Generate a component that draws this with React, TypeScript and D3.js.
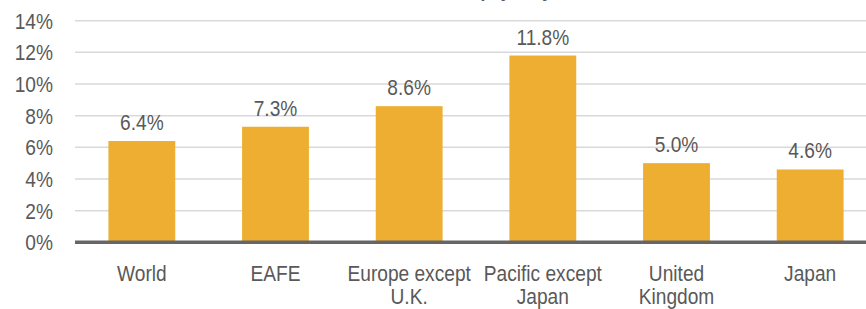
import React, { useEffect, useRef } from 'react';
import * as d3 from 'd3';

const categories = ['World', 'EAFE', 'Europe except\nU.K.', 'Pacific except\nJapan', 'United\nKingdom', 'Japan'];
const values = [6.4, 7.3, 8.6, 11.8, 5.0, 4.6];
const yTicks = [0, 2, 4, 6, 8, 10, 12, 14];
const title = 'Dividend payout yield';

const App = () => {
  const svgRef = useRef<SVGSVGElement>(null);

  useEffect(() => {
    document.body.style.margin = '0';
    const width = 866;
    const height = 309;
    const font = '"Liberation Sans", Arial, sans-serif';
    const textColor = '#595959';
    const narrow = 0.87; // squeeze to look like Arial Narrow
    const fontSize = '22px';

    const svg = d3.select(svgRef.current);
    svg.selectAll('*').remove();
    svg.attr('width', width).attr('height', height);

    const x = d3
      .scaleBand()
      .domain(categories)
      .range([75, 877])
      .paddingInner(0.5)
      .paddingOuter(0.25);

    const y = d3.scaleLinear().domain([0, 14]).range([242.3, 20.7]);

    const place = (px: number, py: number) => `translate(${px},${py}) scale(${narrow},1)`;

    // title, mostly cut off above the picture
    svg
      .append('text')
      .attr('transform', place(492, -3))
      .attr('text-anchor', 'middle')
      .style('font-family', font)
      .style('font-weight', 'bold')
      .style('font-size', '20px')
      .attr('fill', textColor)
      .text(title);

    // gridlines
    svg
      .append('g')
      .selectAll('line')
      .data(yTicks.filter(d => d > 0))
      .enter()
      .append('line')
      .attr('x1', 75)
      .attr('x2', width)
      .attr('y1', d => y(d))
      .attr('y2', d => y(d))
      .attr('stroke', '#d9d9d9')
      .attr('stroke-width', 1.5);

    // y tick labels
    svg
      .append('g')
      .selectAll('text')
      .data(yTicks)
      .enter()
      .append('text')
      .attr('transform', d => place(53, y(d) + 8))
      .attr('text-anchor', 'end')
      .style('font-family', font)
      .style('font-size', fontSize)
      .attr('fill', textColor)
      .text(d => `${d}%`);

    // bars
    svg
      .append('g')
      .selectAll('rect')
      .data(values)
      .enter()
      .append('rect')
      .attr('x', (d, i) => x(categories[i]) as number)
      .attr('width', x.bandwidth())
      .attr('y', d => y(d))
      .attr('height', d => y(0) - y(d))
      .attr('fill', '#edae32');

    // zero axis line
    svg
      .append('line')
      .attr('x1', 75)
      .attr('x2', width)
      .attr('y1', y(0))
      .attr('y2', y(0))
      .attr('stroke', '#666666')
      .attr('stroke-width', 3.5);

    // value labels
    svg
      .append('g')
      .selectAll('text')
      .data(values)
      .enter()
      .append('text')
      .attr('transform', (d, i) => place((x(categories[i]) as number) + x.bandwidth() / 2, y(d) - 11))
      .attr('text-anchor', 'middle')
      .style('font-family', font)
      .style('font-size', fontSize)
      .attr('fill', textColor)
      .text(d => `${d.toFixed(1)}%`);

    // category labels
    const cat = svg
      .append('g')
      .selectAll('text')
      .data(categories)
      .enter()
      .append('text')
      .attr('transform', d => place((x(d) as number) + x.bandwidth() / 2, 281))
      .attr('text-anchor', 'middle')
      .style('font-family', font)
      .style('font-size', fontSize)
      .attr('fill', textColor);

    cat
      .selectAll('tspan')
      .data(d => d.split('\n'))
      .enter()
      .append('tspan')
      .attr('x', 0)
      .attr('dy', (d, i) => (i === 0 ? 0 : 23))
      .text(d => d);
  }, []);

  return <svg ref={svgRef}></svg>;
};

export default App;
